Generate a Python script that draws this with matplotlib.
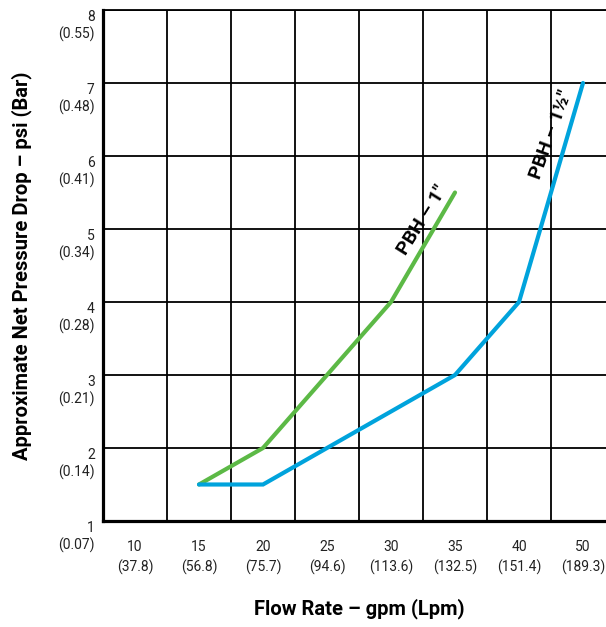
import matplotlib
matplotlib.use("Agg")
import matplotlib.pyplot as plt

plt.rcParams['font.family'] = ['Roboto', 'DejaVu Sans']

flow_gpm = ["10", "15", "20", "25", "30", "35", "40", "50"]
flow_lpm = ["(37.8)", "(56.8)", "(75.7)", "(94.6)", "(113.6)", "(132.5)", "(151.4)", "(189.3)"]
psi = [1, 2, 3, 4, 5, 6, 7, 8]
bar = ["(0.07)", "(0.14)", "(0.21)", "(0.28)", "(0.34)", "(0.41)", "(0.48)", "(0.55)"]

# series: category index -> psi
pbh1_idx = [1, 2, 4, 5]
pbh1_psi = [1.5, 2.0, 4.0, 5.5]
pbh15_idx = [1, 2, 5, 6, 7]
pbh15_psi = [1.5, 1.5, 3.0, 4.0, 7.0]

green = "#5cb946"
blue = "#00a3dc"

fig = plt.figure(figsize=(6.06, 6.27), dpi=100)
ax = fig.add_axes([103/606, 106/627, 512/606, 511/627])

n = len(flow_gpm)
ax.set_xlim(0, n)
ax.set_ylim(1, 8)

ax.plot([i + 0.5 for i in pbh1_idx], pbh1_psi, color=green, lw=3.0,
        solid_capstyle='round', solid_joinstyle='miter', zorder=3)
ax.plot([i + 0.5 for i in pbh15_idx], pbh15_psi, color=blue, lw=3.0,
        solid_capstyle='round', solid_joinstyle='miter', zorder=3)

# grid at category boundaries
ax.set_xticks(range(0, n + 1))
ax.set_xticklabels([])
ax.set_xticks([i + 0.5 for i in range(n)], minor=True)
ax.set_xticklabels([f"{g}\n{l}" for g, l in zip(flow_gpm, flow_lpm)], minor=True)
ax.tick_params(axis='x', which='both', length=0)
ax.tick_params(axis='x', which='minor', pad=14, labelsize=10, colors='#222222')
for t in ax.get_xticklabels(minor=True):
    t.set_linespacing(1.4)

ax.set_yticks(psi)
ax.set_yticklabels([f"{p}\n{b}" for p, b in zip(psi, bar)])
ax.tick_params(axis='y', length=0, pad=6, labelsize=10, colors='#222222')
for t in ax.get_yticklabels():
    t.set_va('top')
    t.set_ha('right')
    t.set_multialignment('right')
    t.set_linespacing(1.2)

ax.grid(True, which='major', color='black', lw=1.3)
ax.set_axisbelow(True)

for s in ['left', 'bottom']:
    ax.spines[s].set_linewidth(2.3)
ax.spines['top'].set_linewidth(1.3)
ax.spines['right'].set_visible(False)

ax.set_xlabel("Flow Rate – gpm (Lpm)", fontsize=14.5, fontweight='bold', labelpad=17)
ax.set_ylabel("Approximate Net Pressure Drop – psi (Bar)", fontsize=14.5, fontweight='bold', labelpad=19)

ax.text(4.99, 5.12, "PBH – 1\"", rotation=58, fontsize=14, fontweight='bold',
        ha='center', va='center', rotation_mode='anchor')
ax.text(7.0, 6.29, "PBH – 1½\"", rotation=70, fontsize=14, fontweight='bold',
        ha='center', va='center', rotation_mode='anchor')

fig.savefig("out.png", dpi=100)
